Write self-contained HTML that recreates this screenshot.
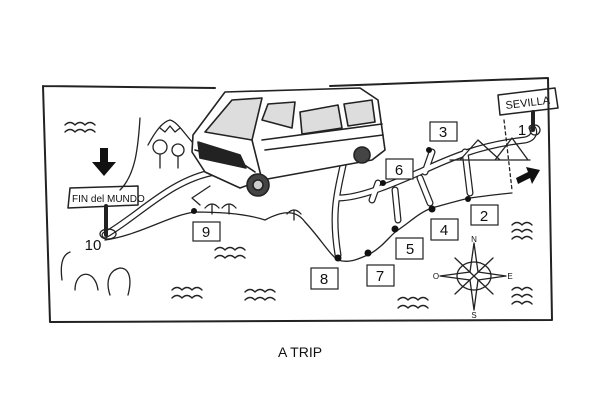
<!DOCTYPE html>
<html><head><style>
html,body{margin:0;padding:0;background:#fff;}
svg{display:block;}
text{font-family:"Liberation Sans",sans-serif;}
</style></head><body>
<svg width="600" height="400" viewBox="0 0 600 400" xmlns="http://www.w3.org/2000/svg">
<g fill="none" stroke="#222" stroke-width="1.3" stroke-linecap="round" stroke-linejoin="round">
<!-- map frame -->
<path d="M43,86 L215,88 M330,86 L548,78 L552,320 L50,322 L43,86" stroke-width="2"/>
<!-- cliff line left -->
<path d="M140,118 C138,150 135,175 120,190"/>
<!-- coast -->
<path d="M105,240 C140,235 170,215 195,212 C230,212 250,215 265,220 C280,212 295,208 305,222 C320,238 330,255 338,260 C350,264 360,258 370,254 C385,245 390,235 398,230 C410,222 420,212 432,208 C450,203 460,200 470,198 C485,196 500,194 512,193"/>
<!-- roads (double) -->
<path d="M105,235 C140,215 170,180 215,172" stroke-width="7"/>
<path d="M105,235 C140,215 170,180 215,172" stroke="#fff" stroke-width="4.5"/>
<g stroke-width="7">
<path d="M345,155 C340,185 330,205 338,255"/>
<path d="M338,198 C360,198 390,185 420,172 C450,158 480,145 525,140 C535,138 535,130 532,128"/>
<path d="M395,190 L398,220 M420,178 L430,203 M465,152 L470,193 M425,172 L432,152 M372,200 L378,183"/>
</g>
<g stroke="#fff" stroke-width="4.5">
<path d="M345,155 C340,185 330,205 338,255"/>
<path d="M338,198 C360,198 390,185 420,172 C450,158 480,145 525,140 C535,138 535,130 532,128"/>
<path d="M395,190 L398,220 M420,178 L430,203 M465,152 L470,193 M425,172 L432,152 M372,200 L378,183"/>
</g>
<path d="M210,186 L192,198 L200,205" />
<!-- mountain & trees -->
<path d="M148,145 C155,132 162,122 170,120 C178,122 185,135 195,145"/>
<path d="M160,128 L165,132 L170,126 L175,132 L180,128"/>
<circle cx="160" cy="147" r="7"/><circle cx="178" cy="150" r="6"/>
<path d="M160,154 L160,168 M178,156 L178,168"/>
<!-- bridge -->
<path d="M460,160 L478,140 L500,160 M495,160 L512,138 L528,160 M450,160 L530,160"/>
<path d="M504,120 L512,190" stroke-dasharray="3,3"/>
<!-- sevilla sign -->
<path d="M498,95 L555,88 L558,108 L500,115 Z" stroke-width="1.5"/>
<path d="M533,112 L533,130" stroke-width="4"/>
<circle cx="535" cy="130" r="5"/>
<!-- fin del mundo sign -->
<path d="M70,188 L138,186 L138,205 L68,208 Z" stroke-width="1.5"/>
<path d="M106,206 L106,235" stroke-width="4"/>
<ellipse cx="108" cy="234" rx="8" ry="5"/>
<!-- waves -->
<g stroke-width="1.4">
<path d="M65,125 q5,-5 10,0 q5,-5 10,0 q5,-5 10,0 M65,132 q5,-5 10,0 q5,-5 10,0 q5,-5 10,0"/>
<path d="M215,250 q5,-5 10,0 q5,-5 10,0 q5,-5 10,0 M215,258 q5,-5 10,0 q5,-5 10,0 q5,-5 10,0"/>
<path d="M172,290 q5,-5 10,0 q5,-5 10,0 q5,-5 10,0 M172,298 q5,-5 10,0 q5,-5 10,0 q5,-5 10,0"/>
<path d="M245,292 q5,-5 10,0 q5,-5 10,0 q5,-5 10,0 M245,300 q5,-5 10,0 q5,-5 10,0 q5,-5 10,0"/>
<path d="M398,300 q5,-5 10,0 q5,-5 10,0 q5,-5 10,0 M398,308 q5,-5 10,0 q5,-5 10,0 q5,-5 10,0"/>
<path d="M512,225 q5,-5 10,0 q5,-5 10,0 M512,232 q5,-5 10,0 q5,-5 10,0 M512,239 q5,-5 10,0 q5,-5 10,0"/>
<path d="M512,290 q5,-5 10,0 q5,-5 10,0 M512,297 q5,-5 10,0 q5,-5 10,0 M512,304 q5,-5 10,0 q5,-5 10,0"/>
</g>
<!-- sea monster -->
<path d="M75,290 C75,270 95,268 98,290 M110,295 C105,280 110,270 120,268 C130,268 132,280 128,295"/>
<path d="M62,280 C60,265 62,255 70,252"/>
<!-- compass -->
<ellipse cx="474" cy="276" rx="17" ry="14"/>
<path d="M474,243 L478,272 L506,276 L478,280 L474,310 L470,280 L440,276 L470,272 Z"/>
<path d="M455,258 L493,294 M493,258 L455,294"/>
<!-- umbrellas -->
<path d="M205,208 q7,-8 14,0 M212,204 L212,214 M222,208 q7,-8 14,0 M229,204 L229,214 M287,214 q7,-8 14,0 M294,210 L294,220"/>
<!-- van -->
<g stroke-width="1.6">
<path d="M193,135 L225,92 L360,88 L378,100 L385,150 L372,160 L262,180 L240,188 L205,172 L192,152 Z" fill="#fff"/>
<path d="M205,132 L232,100 L262,98 L252,140 Z" fill="#ddd"/>
<path d="M262,120 L268,104 L295,102 L292,128 Z M300,112 L338,105 L342,128 L302,134 Z M344,104 L372,100 L375,122 L348,126 Z" fill="#ddd"/>
<path d="M195,150 L240,162 L255,172 M252,140 L262,180 M262,140 L382,124 M265,150 L383,135"/>
<path d="M198,142 L240,155 L246,168 L200,158 Z" fill="#222"/>
<circle cx="258" cy="185" r="11" fill="#444"/><circle cx="258" cy="185" r="5" fill="#ccc"/>
<circle cx="362" cy="155" r="8" fill="#444"/>
</g>
</g>
<!-- arrows -->
<path d="M100,148 L108,148 L108,162 L116,162 L104,176 L92,162 L100,162 Z" fill="#111"/>
<path d="M516,178 L528,172 L526,167 L540,170 L532,184 L530,178 L518,184 Z" fill="#111"/>
<!-- dots -->
<g fill="#111">
<circle cx="194" cy="211" r="3"/><circle cx="338" cy="258" r="3.5"/><circle cx="368" cy="253" r="3.5"/>
<circle cx="395" cy="229" r="3.5"/><circle cx="432" cy="209" r="3.5"/><circle cx="468" cy="199" r="3"/>
<circle cx="383" cy="183" r="3"/><circle cx="429" cy="150" r="3"/>
</g>
<!-- label boxes -->
<g fill="#fff" stroke="#222" stroke-width="1.2">
<rect x="193" y="222" width="27" height="19"/><rect x="311" y="268" width="27" height="21"/>
<rect x="367" y="265" width="27" height="21"/><rect x="396" y="238" width="27" height="21"/>
<rect x="431" y="219" width="27" height="21"/><rect x="471" y="205" width="27" height="20"/>
<rect x="386" y="159" width="27" height="20"/><rect x="430" y="122" width="27" height="19"/>
</g>
<g font-size="15" fill="#111" text-anchor="middle">
<text x="206" y="237">9</text><text x="324" y="284">8</text><text x="380" y="281">7</text>
<text x="410" y="254">5</text><text x="444" y="235">4</text><text x="484" y="221">2</text>
<text x="399" y="175">6</text><text x="443" y="137">3</text>
<text x="93" y="250">10</text><text x="522" y="135">1</text>
</g>
<g font-size="8" fill="#111" text-anchor="middle">
<text x="474" y="242">N</text><text x="474" y="318">S</text><text x="510" y="279">E</text><text x="436" y="279">O</text>
</g>
<text x="72" y="202" font-size="10" fill="#111">FIN del MUNDO</text>
<text x="506" y="109" font-size="11" fill="#111" transform="rotate(-7 506 109)">SEVILLA</text>
<text x="300" y="357" font-size="14" fill="#111" text-anchor="middle">A TRIP</text>
</svg>
</body></html>
